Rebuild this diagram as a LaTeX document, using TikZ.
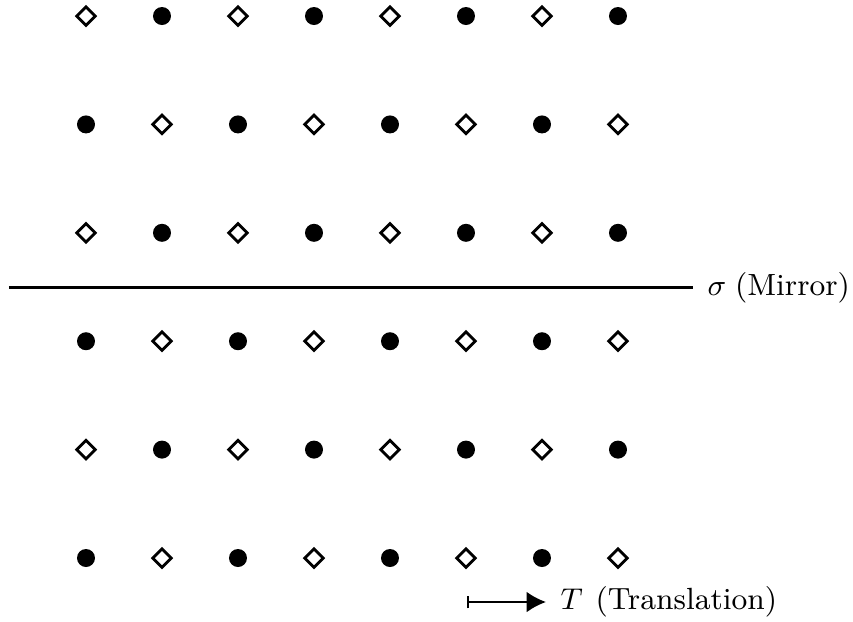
\documentclass[tikz,border=0pt]{standalone}
\usetikzlibrary{shapes.geometric,arrows.meta}
\begin{document}
\begin{tikzpicture}[x=0.3pt,y=-0.3pt,
  dotmark/.style={circle,fill=black,inner sep=0pt,minimum size=5.4pt},
  diamark/.style={diamond,draw=black,line width=0.85pt,inner sep=0pt,minimum size=5.9pt},
  mirrorline/.style={line width=0.65pt},
  lbl/.style={anchor=west,inner sep=0pt,font=\fontsize{9.2}{11}\selectfont},
  transarrow/.style={line width=0.65pt,{Bar[width=3.8pt]}-{Latex[length=5.8pt,width=6.2pt]}}]
\useasboundingbox (0,0) rectangle (853,621);
\foreach \i in {0,...,5}{
  \foreach \j in {0,...,7}{
    \pgfmathtruncatemacro{\s}{mod(\i+\j,2)}
    \pgfmathsetmacro{\xx}{86+76*\j}
    \pgfmathsetmacro{\yy}{16+108.4*\i}
    \ifnum\s=0
      \node[diamark] (m-\i-\j) at (\xx,\yy) {};
    \else
      \node[dotmark] (m-\i-\j) at (\xx,\yy) {};
    \fi
  }
}
\coordinate (mL) at (9,287.5);
\coordinate (mR) at (693,287.5);
\node[lbl] (mirror) at (707,287.5) {$\sigma$\hspace{2.6pt}(Mirror)};
\draw[mirrorline] (mL) -- (mR);
\coordinate (tA) at (467,602);
\coordinate (tB) at (546,602);
\draw[transarrow] (tA) -- (tB);
\node[lbl] (trans) at (560,602) {$T$\hspace{3.8pt}(Translation)};
\end{tikzpicture}
\end{document}
